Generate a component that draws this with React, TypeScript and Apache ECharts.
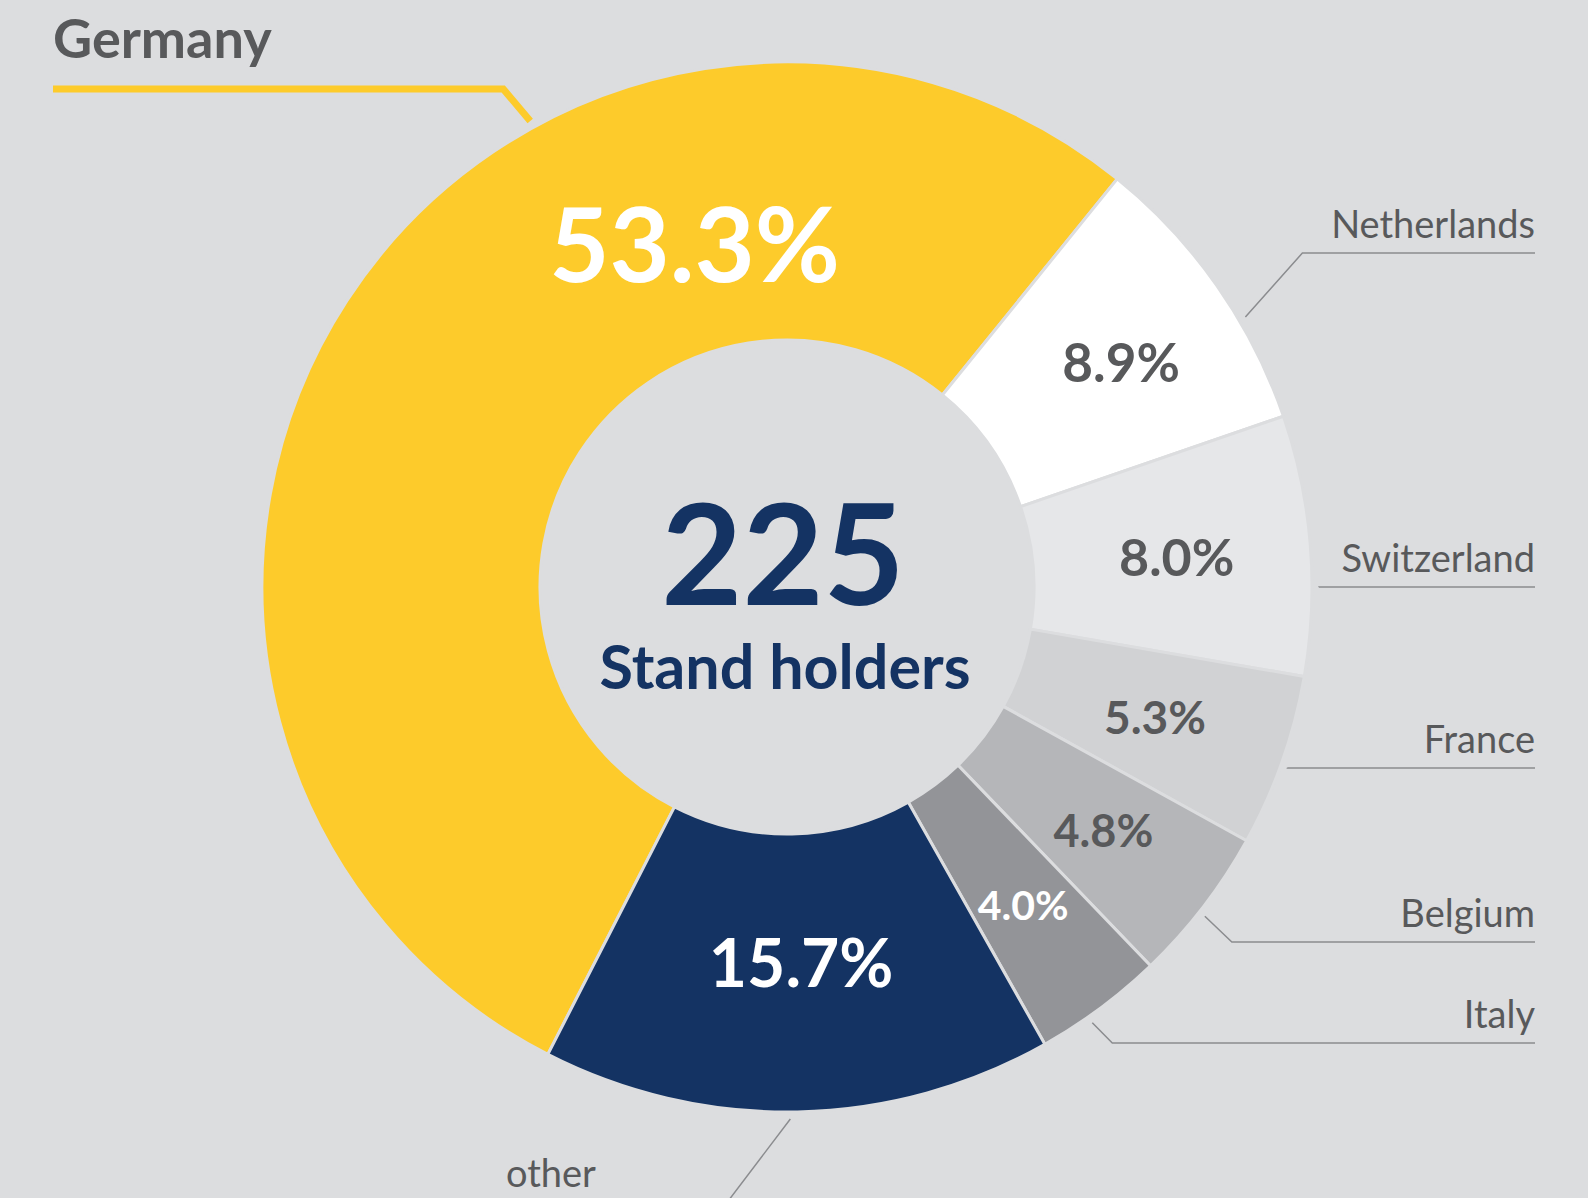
import React, { useEffect, useRef } from "react";
import * as echarts from "echarts";

// ---------- data ----------
const countries = ["Germany", "Netherlands", "Switzerland", "France", "Belgium", "Italy", "other"];
const shares = [53.3, 8.9, 8.0, 5.3, 4.8, 4.0, 15.7];
const totalStandHolders = 225;
const centerCaption = "Stand holders";

// ---------- styles ----------
const sliceColors = ["#fdcb2b", "#ffffff", "#e6e7e9", "#d1d2d4", "#b5b6b9", "#939498", "#143363"];
const pctColors = ["#ffffff", "#58595b", "#58595b", "#58595b", "#58595b", "#ffffff", "#ffffff"];
const pctFontSizes = [104, 53, 52, 46, 45, 41, 66];
// percentage label placement (style): angle nudge from slice mid-angle and distance from centre
const pctAngleNudge = [-42, -1, 0, 0, 0, 0, 1];
const pctRadius = [358, 403, 391, 390, 399, 396, 375];

const W = 1588;
const H = 1198;
const CX = 787;
const CY = 587;
const R_IN = 247;
const R_OUT = 525;
const START_ANGLE = 242.9;
const BG = "#dcdddf";
const TEXT_GRAY = "#58595b";
const NAVY = "#143363";
const LINE_GRAY = "#8b8c8f";
const FONT = "Lato, 'Open Sans', sans-serif";

// label leader styling (per label): angle nudge from the slice mid-angle, bend offset, row level, text anchor
const leaderAngleNudge = [-28.1, -4.5, -4.6, -0.5, -0.7, -1.6, -0.8];
const leaderBendDx = [-27, 57, 0, 0, 27, 20, -69];
const leaderRowY = [89, 253, 587, 768, 942, 1043, 1210];
const labelAnchorX = [53, 1535, 1535, 1535, 1535, 1535, 506];
const labelSide = ["left", "right", "right", "right", "right", "right", "left"];
const labelRise = [52, 30, 30, 30, 30, 30, 38];

export default function App() {
  const ref = useRef<HTMLDivElement>(null);

  useEffect(() => {
    document.body.style.margin = "0";
    if (!ref.current) return;
    const chart = echarts.init(ref.current, undefined, { renderer: "svg" });

    const total = shares.reduce((a, b) => a + b, 0);
    const mids: number[] = [];
    let acc = 0;
    shares.forEach((v) => {
      mids.push(START_ANGLE - ((acc + v / 2) / total) * 360);
      acc += v;
    });
    const rad = Math.PI / 180;

    const dataA = countries.map((name, i) => ({
      name,
      value: shares[i],
      itemStyle: { color: sliceColors[i] },
      label: { color: pctColors[i], fontSize: pctFontSizes[i] },
    }));

    const dataB = countries.map((name, i) => ({
      name,
      value: shares[i],
      label:
        i === 0
          ? { fontWeight: "bold", fontSize: 54, color: TEXT_GRAY }
          : { fontSize: 38, color: TEXT_GRAY },
      labelLine:
        i === 0
          ? { lineStyle: { color: sliceColors[0], width: 7 } }
          : { lineStyle: { color: LINE_GRAY, width: 1.5 } },
    }));

    chart.setOption({
      animation: false,
      backgroundColor: BG,
      series: [
        {
          type: "pie",
          center: [CX, CY],
          radius: [R_IN, R_OUT],
          startAngle: START_ANGLE,
          clockwise: true,
          silent: true,
          avoidLabelOverlap: false,
          emphasis: { disabled: true },
          itemStyle: { borderColor: BG, borderWidth: 3 },
          label: {
            show: true,
            position: "inside",
            fontFamily: FONT,
            fontWeight: "bold",
            formatter: (p: any) => `${Number(p.value).toFixed(1)}%`,
          },
          labelLine: { show: false },
          labelLayout: (p: any) => {
            const i = p.dataIndex;
            const a = (mids[i] + pctAngleNudge[i]) * rad;
            return {
              x: CX + pctRadius[i] * Math.cos(a),
              y: CY - pctRadius[i] * Math.sin(a),
              align: "center",
              verticalAlign: "middle",
            };
          },
          data: dataA,
        },
        {
          type: "pie",
          center: [CX, CY],
          radius: [R_IN, R_OUT],
          startAngle: START_ANGLE,
          clockwise: true,
          silent: true,
          avoidLabelOverlap: false,
          emphasis: { disabled: true },
          itemStyle: { color: "rgba(0,0,0,0)", borderWidth: 0 },
          label: {
            show: true,
            position: "outside",
            formatter: "{b}",
            fontFamily: FONT,
          },
          labelLine: { show: true, length: 10, length2: 10 },
          labelLayout: (p: any) => {
            const i = p.dataIndex;
            const a = (mids[i] + leaderAngleNudge[i]) * rad;
            const r = R_OUT + 7;
            const sx = CX + r * Math.cos(a);
            const sy = CY - r * Math.sin(a);
            const by = leaderRowY[i];
            const bx = sx + leaderBendDx[i];
            const ex = labelAnchorX[i];
            return {
              x: labelAnchorX[i],
              y: by - labelRise[i],
              align: labelSide[i],
              verticalAlign: "middle",
              labelLinePoints: [
                [sx, sy],
                [bx, by],
                [ex, by],
              ],
            };
          },
          data: dataB,
        },
      ],
      graphic: [
        {
          type: "text",
          x: CX - 4,
          y: 551,
          style: {
            text: String(totalStandHolders),
            fill: NAVY,
            fontSize: 140,
            fontWeight: "bold",
            fontFamily: FONT,
            align: "center",
            verticalAlign: "middle",
            textAlign: "center",
            textVerticalAlign: "middle",
          },
        },
        {
          type: "text",
          x: CX - 2,
          y: 665,
          style: {
            text: centerCaption,
            fill: NAVY,
            fontSize: 61,
            fontWeight: "bold",
            fontFamily: FONT,
            align: "center",
            verticalAlign: "middle",
            textAlign: "center",
            textVerticalAlign: "middle",
          },
        },
      ],
    });

    return () => chart.dispose();
  }, []);

  return <div ref={ref} style={{ width: W, height: H, overflow: "hidden" }} />;
}
